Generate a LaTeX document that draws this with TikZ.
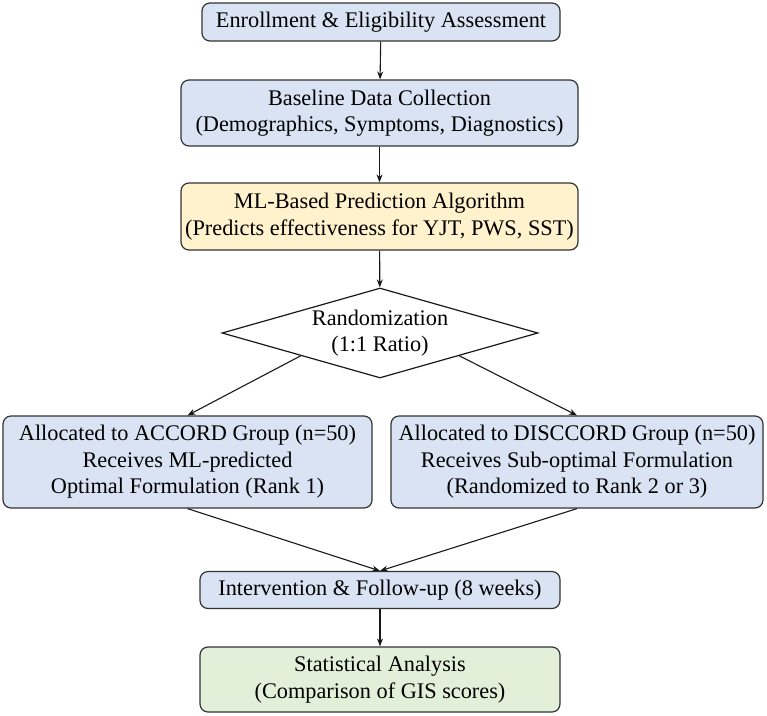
\documentclass[tikz,border=0pt]{standalone}
\usepackage{fontspec}
\setmainfont{Liberation Serif}
\usetikzlibrary{shapes.geometric,arrows.meta}
\definecolor{boxblue}{HTML}{DAE3F3}
\definecolor{boxyellow}{HTML}{FFF2CC}
\definecolor{boxgreen}{HTML}{E2F0D9}
\definecolor{edgegray}{HTML}{333333}
\begin{document}
\begin{tikzpicture}[x=1pt,y=-1pt,
  every node/.style={font=\fontsize{22.3}{26.5}\selectfont, align=center, inner sep=0pt},
  proc/.style={draw=edgegray, line width=1.2pt, rounded corners=8pt},
  conn/.style={draw=black!90, line width=1.1pt, -{Stealth[length=8pt,width=6pt]}}
]
\useasboundingbox (0,0) rectangle (767,715);
\node[proc, fill=boxblue, minimum width=358pt, minimum height=38pt] (b1) at (381,22) {Enrollment \& Eligibility Assessment};
\node[proc, fill=boxblue, minimum width=397pt, minimum height=66pt] (b2) at (379.5,113) {Baseline Data Collection\\(Demographics, Symptoms, Diagnostics)};
\node[proc, fill=boxyellow, minimum width=397pt, minimum height=67pt] (b3) at (379.5,216.5) {ML-Based Prediction Algorithm\\(Predicts effectiveness for YJT, PWS, SST)};
\node[diamond, draw=black!90, line width=1.2pt, fill=white, aspect=3.5, minimum width=316pt, minimum height=90pt] (dia) at (380,333) {Randomization\\(1:1 Ratio)};
\node[proc, fill=boxblue, minimum width=369pt, minimum height=92pt] (acc) at (187.5,462) {Allocated to ACCORD Group (n=50)\\Receives ML-predicted\\Optimal Formulation (Rank 1)};
\node[proc, fill=boxblue, minimum width=372pt, minimum height=92pt] (dis) at (577,462) {Allocated to DISCCORD Group (n=50)\\Receives Sub-optimal Formulation\\(Randomized to Rank 2 or 3)};
\node[proc, fill=boxblue, minimum width=360pt, minimum height=37pt] (int) at (380,590) {Intervention \& Follow-up (8 weeks)};
\node[proc, fill=boxgreen, minimum width=360pt, minimum height=65pt] (sta) at (380,679.5) {Statistical Analysis\\(Comparison of GIS scores)};
\draw[conn] (b1) -- (b2);
\draw[conn] (b2) -- (b3);
\draw[conn] (b3) -- (dia);
\draw[conn] (dia.south west) -- (acc.north);
\draw[conn] (dia.south east) -- (dis.north);
\draw[conn] (acc.south) -- (int.north);
\draw[conn] (dis.south) -- (int.north);
\draw[conn] (int) -- (sta);
\end{tikzpicture}
\end{document}
